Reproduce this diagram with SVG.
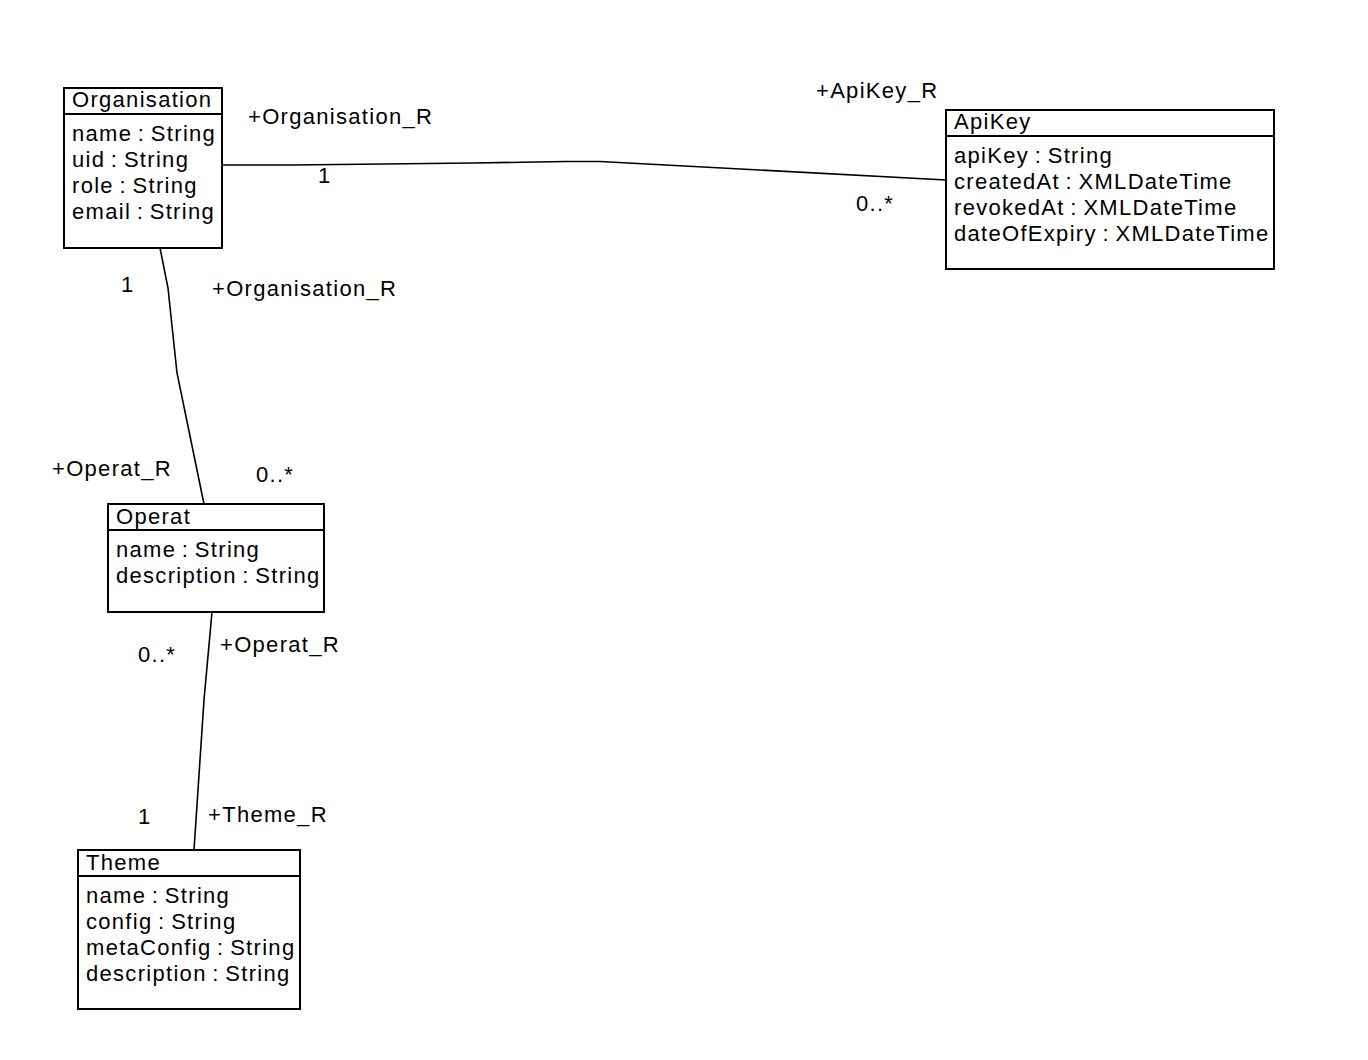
<svg xmlns="http://www.w3.org/2000/svg" width="1368" height="1060" viewBox="0 0 1368 1060">
<style>
text{font-family:"Liberation Sans",Arial,Helvetica,sans-serif;font-size:22px;letter-spacing:1.3px;word-spacing:-1.8px;fill:#000}
.box{fill:#fff;stroke:#000;stroke-width:2}
.sep{stroke:#000;stroke-width:2}
.conn{fill:none;stroke:#000;stroke-width:1.6}
</style>
<rect width="1368" height="1060" fill="#fff"/>
<g id="connectors">
<polyline class="conn" points="222,165 292,165 383,164 473,163 565,161.5 600,161.5 946,180"/>
<polyline class="conn" points="160,248 168,288 177,373 204,504"/>
<polyline class="conn" points="212,612 204,700 194,850"/>
</g>
<g id="labels">
<text x="248" y="124">+Organisation_R</text>
<rect x="316" y="167" width="18" height="20" fill="#fff"/>
<text x="318" y="183">1</text>
<text x="816" y="98">+ApiKey_R</text>
<text x="856" y="211">0..*</text>
<text x="121" y="292">1</text>
<text x="212" y="296">+Organisation_R</text>
<text x="52" y="476">+Operat_R</text>
<text x="256" y="482">0..*</text>
<text x="138" y="662">0..*</text>
<text x="220" y="652">+Operat_R</text>
<text x="138" y="824">1</text>
<text x="208" y="822">+Theme_R</text>
</g>
<g id="Organisation">
<rect class="box" x="64" y="88" width="158" height="160"/>
<line class="sep" x1="64" y1="114" x2="222" y2="114"/>
<text x="72" y="107">Organisation</text>
<text x="72" y="141">name : String</text>
<text x="72" y="167">uid : String</text>
<text x="72" y="193">role : String</text>
<text x="72" y="219">email : String</text>
</g>
<g id="ApiKey">
<rect class="box" x="946" y="110" width="328" height="159"/>
<line class="sep" x1="946" y1="136" x2="1274" y2="136"/>
<text x="954" y="129">ApiKey</text>
<text x="954" y="163">apiKey : String</text>
<text x="954" y="189">createdAt : XMLDateTime</text>
<text x="954" y="215">revokedAt : XMLDateTime</text>
<text x="954" y="241">dateOfExpiry : XMLDateTime</text>
</g>
<g id="Operat">
<rect class="box" x="108" y="504" width="216" height="108"/>
<line class="sep" x1="108" y1="530" x2="324" y2="530"/>
<text x="116" y="524">Operat</text>
<text x="116" y="557">name : String</text>
<text x="116" y="583">description : String</text>
</g>
<g id="Theme">
<rect class="box" x="78" y="850" width="222" height="159"/>
<line class="sep" x1="78" y1="876" x2="300" y2="876"/>
<text x="86" y="870">Theme</text>
<text x="86" y="903">name : String</text>
<text x="86" y="929">config : String</text>
<text x="86" y="955">metaConfig : String</text>
<text x="86" y="981">description : String</text>
</g>
</svg>
